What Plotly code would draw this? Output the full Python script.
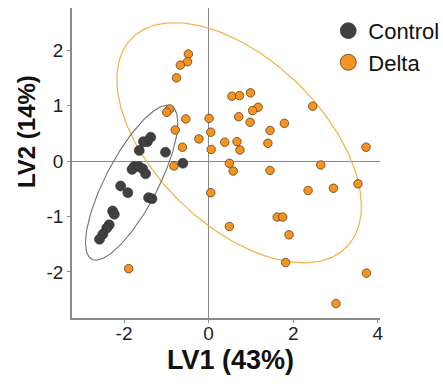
import numpy as np
import plotly.graph_objects as go

# ---- data ----
control_x = [-1.37, -1.45, -1.54, -1.64, -1.02, -0.61, -1.76, -1.81, -1.65, -1.56, -1.49,
             -2.08, -1.91, -1.42, -1.34, -2.27, -2.23, -2.35, -2.41, -2.50, -2.58]
control_y = [0.43, 0.35, 0.35, 0.19, 0.16, -0.04, -0.10, -0.15, -0.10, -0.14, -0.23,
             -0.45, -0.57, -0.66, -0.68, -0.90, -0.96, -1.15, -1.21, -1.32, -1.41]

delta_x = [-0.48, -0.50, -0.67, -0.76, -0.92, -0.99, -0.54, 0.01, -0.79, 0.05, -0.23, -0.62,
           0.06, -0.82, 0.05, 0.55, 0.73, 0.99, 1.17, 1.04, 0.71, 0.98, 1.79, 1.45, 2.46,
           0.38, 0.67, 0.74, 1.40, 3.72, 0.49, 0.58, 1.45, 2.65, 2.35, 2.95, 3.53, 1.62,
           1.75, 0.49, 1.90, 1.82, 3.73, 3.01, -1.89]
delta_y = [1.93, 1.79, 1.73, 1.50, 0.94, 0.88, 0.76, 0.77, 0.56, 0.52, 0.40, 0.25,
           0.21, -0.09, -0.57, 1.17, 1.18, 1.23, 0.97, 0.91, 0.80, 0.70, 0.68, 0.55, 0.99,
           0.34, 0.35, 0.20, 0.32, 0.25, -0.04, -0.18, -0.17, -0.07, -0.53, -0.49, -0.41, -1.01,
           -1.01, -1.18, -1.33, -1.83, -2.02, -2.57, -1.94]

# ellipse summaries: center and covariance-like shape (var_x, var_y, cov)
control_ell_center = (-1.82, -0.39)
control_ell_shape = (1.19, 1.95, 1.18)
delta_ell_center = (0.72, 0.33)
delta_ell_shape = (8.35, 4.69, -3.3)

x_ticks = [-2, 0, 2, 4]
x_tick_labels = ["-2", "0", "2", "4"]
y_ticks = [-2, -1, 0, 1, 2]
y_tick_labels = ["-2", "-1", "0", "1", "2"]
x_title = "LV1 (43%)"
y_title = "LV2 (14%)"
group_names = ["Control", "Delta"]


def ellipse(center, shape, n=200):
    a, d, b = shape
    L = np.linalg.cholesky(np.array([[a, b], [b, d]]))
    t = np.linspace(0, 2 * np.pi, n)
    pts = L @ np.vstack([np.cos(t), np.sin(t)])
    return pts[0] + center[0], pts[1] + center[1]


CTRL = "#404040"
ORNG = "#F7931E"
FONT = "Liberation Sans, Arial, sans-serif"

fig = go.Figure()

ex, ey = ellipse(delta_ell_center, delta_ell_shape)
fig.add_trace(go.Scatter(x=ex, y=ey, mode="lines", line=dict(color="#F2B347", width=1.2),
                         showlegend=False, hoverinfo="skip"))
cx, cy = ellipse(control_ell_center, control_ell_shape)
fig.add_trace(go.Scatter(x=cx, y=cy, mode="lines", line=dict(color="#707070", width=1.1),
                         showlegend=False, hoverinfo="skip"))

fig.add_trace(go.Scatter(x=delta_x, y=delta_y, mode="markers", name=group_names[1],
                         marker=dict(color=ORNG, size=8.5, line=dict(color="#5a4020", width=0.8)),
                         showlegend=False))
fig.add_trace(go.Scatter(x=control_x, y=control_y, mode="markers", name=group_names[0],
                         marker=dict(color=CTRL, size=10, line=dict(color="#303030", width=0.6)),
                         showlegend=False))

# legend entries
fig.add_trace(go.Scatter(x=[None], y=[None], mode="markers", name=group_names[0],
                         marker=dict(color=CTRL, size=18, line=dict(color="#303030", width=0.6))))
fig.add_trace(go.Scatter(x=[None], y=[None], mode="markers", name=group_names[1],
                         marker=dict(color=ORNG, size=18, line=dict(color="#5a4020", width=0.8))))

axis_common = dict(showgrid=False, zeroline=True, zerolinecolor="#8a8a8a", zerolinewidth=1.3,
                   showline=True, linecolor="#8a8a8a", linewidth=1.5, ticks="outside",
                   ticklen=3, tickcolor="#8a8a8a", tickfont=dict(family=FONT, size=19, color="#222"))

fig.update_layout(
    width=443, height=384,
    margin=dict(l=72, r=63, t=8, b=66, autoexpand=False),
    plot_bgcolor="white", paper_bgcolor="white",
    xaxis=dict(range=[-3.23, 4.05], tickvals=x_ticks, ticktext=x_tick_labels,
               ticklabelstandoff=-6, **axis_common),
    yaxis=dict(range=[-2.83, 2.76], tickvals=y_ticks, ticktext=y_tick_labels, **axis_common),
    legend=dict(x=0.832, y=0.994, xanchor="left", yanchor="top", bgcolor="rgba(0,0,0,0)",
                font=dict(family=FONT, size=22, color="#111"), tracegroupgap=0,
                itemwidth=30),
    annotations=[
        dict(text="<b>" + x_title + "</b>", x=0.513, y=-0.135, xref="paper", yref="paper",
             showarrow=False, font=dict(family=FONT, size=27, color="#111"), yanchor="middle"),
        dict(text="<b>" + y_title + "</b>", x=-0.149, y=0.60, xref="paper", yref="paper",
             showarrow=False, textangle=-90, font=dict(family=FONT, size=24, color="#111"),
             xanchor="center", yanchor="middle"),
    ],
)

fig.write_html("out.html", config={"displayModeBar": False})

# remove default page margin so the figure sits at the window's top-left corner
with open("out.html", "r", encoding="utf-8") as f:
    html = f.read()
html = html.replace("<head>", "<head><style>html,body{margin:0;padding:0;overflow:hidden}</style>", 1)
with open("out.html", "w", encoding="utf-8") as f:
    f.write(html)
